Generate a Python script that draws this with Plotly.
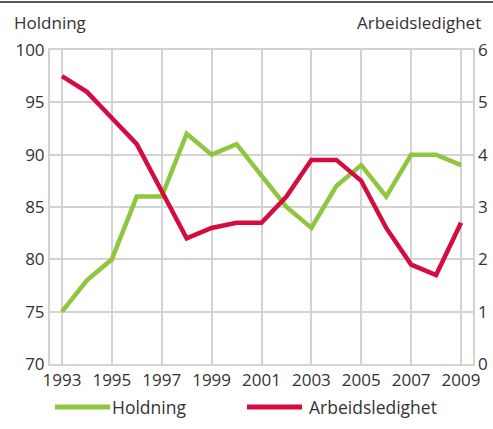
import plotly.graph_objects as go

years = list(range(1993, 2010))
holdning = [75, 78, 80, 86, 86, 92, 90, 91, 88, 85, 83, 87, 89, 86, 90, 90, 89]
arbeidsledighet = [5.5, 5.2, 4.7, 4.2, 3.3, 2.4, 2.6, 2.7, 2.7, 3.2, 3.9, 3.9, 3.5, 2.6, 1.9, 1.7, 2.7]
x_ticks = list(range(1993, 2010, 2))
series_names = ["Holdning", "Arbeidsledighet"]

GREEN = "#8dc63f"
RED = "#d50c3f"
GRID = "#d3d3d3"
TEXT = "#333333"
FONT = "Open Sans"
FS = 17

W, H = 493, 429
L, R, T, B = 50, 20, 50, 65
pw, ph = W - L - R, H - T - B


def px_x(v):
    return (v - L) / pw


def px_y(v):
    return (H - B - v) / ph


fig = go.Figure()
fig.add_trace(go.Scatter(x=years, y=holdning, name=series_names[0], mode="lines",
                         line=dict(color=GREEN, width=4.5), yaxis="y"))
fig.add_trace(go.Scatter(x=years, y=arbeidsledighet, name=series_names[1], mode="lines",
                         line=dict(color=RED, width=4.5), yaxis="y2"))

# legend drawn below the plot: swatch line + label for each series
legend_items = [(series_names[0], GREEN, 55, 110, 112), (series_names[1], RED, 247, 302, 309)]
shapes = [dict(type="line", xref="paper", yref="paper", x0=px_x(0), x1=px_x(W),
               y0=px_y(2), y1=px_y(2), line=dict(color="#222222", width=1.5))]
annotations = [
    dict(text="Holdning", xref="paper", yref="paper", x=px_x(12), y=px_y(22),
         xanchor="left", yanchor="middle", showarrow=False, font=dict(size=FS, color=TEXT)),
    dict(text="Arbeidsledighet", xref="paper", yref="paper", x=px_x(483), y=px_y(22),
         xanchor="right", yanchor="middle", showarrow=False, font=dict(size=FS, color=TEXT)),
]
for name, color, a, b, tx in legend_items:
    shapes.append(dict(type="line", xref="paper", yref="paper", x0=px_x(a), x1=px_x(b),
                       y0=px_y(407), y1=px_y(407), line=dict(color=color, width=5)))
    annotations.append(dict(text=name, xref="paper", yref="paper", x=px_x(tx), y=px_y(407),
                            xanchor="left", yanchor="middle", showarrow=False,
                            xshift=-2, font=dict(size=FS + 0.5, color=TEXT)))

fig.update_layout(
    width=W, height=H,
    margin=dict(l=L, r=R, t=T, b=B),
    paper_bgcolor="white", plot_bgcolor="white",
    font=dict(family=FONT, size=FS, color=TEXT),
    showlegend=False,
    xaxis=dict(range=[1992.52, 2009.48], tickvals=x_ticks, ticktext=[str(v) for v in x_ticks],
               showgrid=True, gridcolor=GRID, gridwidth=2, zeroline=False,
               showline=True, linecolor=GRID, linewidth=2, mirror=True, automargin=False,
               ticks="", tickfont=dict(size=FS, color=TEXT), ticklabelstandoff=0),
    yaxis=dict(range=[70, 100], dtick=5, showgrid=True, gridcolor=GRID, gridwidth=2,
               zeroline=False, showline=True, linecolor=GRID, linewidth=2, mirror=True,
               automargin=False, ticks="", tickfont=dict(size=FS, color=TEXT)),
    yaxis2=dict(range=[0, 6], dtick=1, overlaying="y", side="right", showgrid=False,
                zeroline=False, showline=False, ticks="", ticklabelstandoff=4,
                automargin=False, tickfont=dict(size=FS, color=TEXT)),
    annotations=annotations,
    shapes=shapes,
)

fig.write_html("out.html")
